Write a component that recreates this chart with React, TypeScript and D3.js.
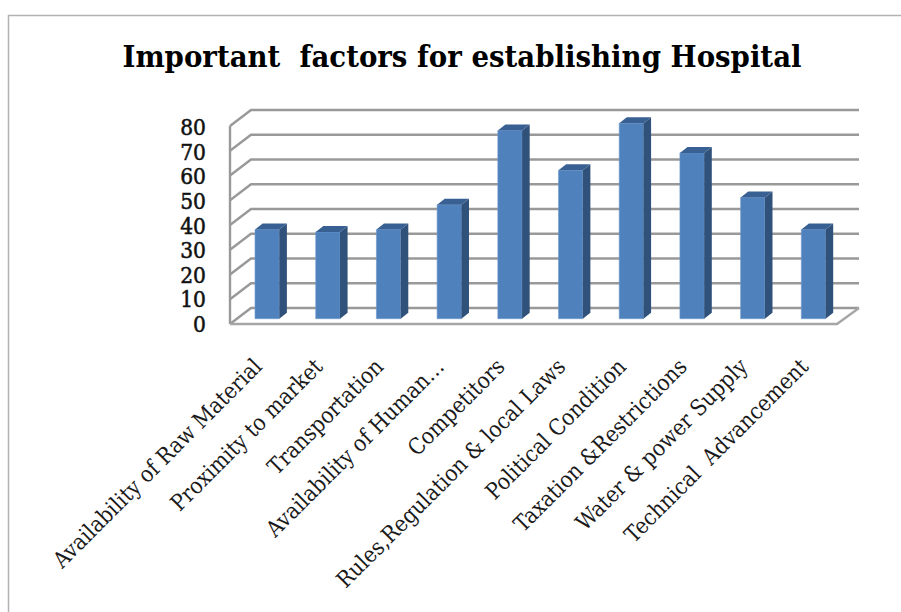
// Important factors for establishing Hospital - fake 3D column chart in D3
import { useEffect, useRef } from 'react'
import * as d3 from 'd3'

const categories = [
  'Availability of Raw Material',
  'Proximity to market',
  'Transportation',
  'Availability of Human…',
  'Competitors',
  'Rules,Regulation & local Laws',
  'Political Condition',
  'Taxation &Restrictions',
  'Water & power Supply',
  'Technical  Advancement',
]
const values = [36, 35, 36, 46, 76, 60, 79, 67, 49, 36]
const yTicks = [0, 10, 20, 30, 40, 50, 60, 70, 80]
const titleText = 'Important  factors for establishing Hospital'

const WIDTH = 901
const HEIGHT = 612
const FONT = '"DejaVu Serif Condensed", "DejaVu Serif", serif'

const App = () => {
  const ref = useRef<SVGSVGElement>(null)

  useEffect(() => {
    const svg = d3.select(ref.current)
    svg.selectAll('*').remove()

    // Frame
    svg
      .append('path')
      .attr('d', `M8.5,${HEIGHT}V15.5H${WIDTH}`)
      .attr('fill', 'none')
      .attr('stroke', '#b2b2b2')
      .attr('stroke-width', 1.5)

    // Title
    svg
      .append('text')
      .attr('x', 462)
      .attr('y', 67)
      .attr('text-anchor', 'middle')
      .style('font', `bold 30.7px ${FONT}`)
      .style('white-space', 'pre')
      .attr('fill', '#000')
      .text(titleText)

    // Scales for the front plane of the box
    const x = d3.scaleBand().domain(categories).range([230, 837]).paddingInner(0.6).paddingOuter(0.3)
    const y = d3.scaleLinear().domain([0, 80]).range([324, 126])
    const tickBaseline = d3.scaleLinear().domain([0, 80]).range([332, 135])

    const depthX = 21
    const depthY = -16
    const barDepthX = 7.6
    const barDepthY = -6
    const barOffsetX = 6.8
    const barOffsetY = -5.3

    // Walls and gridlines
    const grid = svg.append('g').attr('fill', 'none').attr('stroke', '#999').attr('stroke-width', 2.4)
    yTicks.forEach(t => {
      grid
        .append('path')
        .attr('d', `M${x.range()[0]},${y(t)}L${x.range()[0] + depthX},${y(t) + depthY}H859`)
    })
    grid.append('path').attr('d', `M230,${y(0)}V${y(80)}`)
    grid
      .append('path')
      .attr('d', `M230,${y(0)}H837L859,${y(0) + depthY}`)
      .attr('stroke', '#a6a6a6')

    // Tick labels
    svg
      .append('g')
      .selectAll('text')
      .data(yTicks)
      .join('text')
      .attr('x', 206)
      .attr('y', d => tickBaseline(d))
      .attr('text-anchor', 'end')
      .style('font', `22.5px ${FONT}`)
      .attr('fill', '#111')
      .attr('stroke', '#111')
      .attr('stroke-width', 0.5)
      .text(d => d)

    // Bars
    const bars = svg
      .append('g')
      .selectAll('g')
      .data(categories)
      .join('g')
      .attr('transform', `translate(${barOffsetX},${barOffsetY})`)

    const val = (i: number) => values[i]

    bars
      .append('path')
      .attr('fill', '#4f81bd')
      .attr('stroke', '#6f9bd0')
      .attr('stroke-width', 0.6)
      .attr('d', (d, i) => {
        const x0 = x(d) as number
        return `M${x0},${y(val(i))}h${x.bandwidth()}V${y(0)}H${x0}Z`
      })
    bars
      .append('path')
      .attr('fill', '#30517a')
      .attr('d', (d, i) => {
        const x1 = (x(d) as number) + x.bandwidth()
        return `M${x1},${y(val(i))}l${barDepthX},${barDepthY}V${y(0) + barDepthY}l${-barDepthX},${-barDepthY}Z`
      })
    bars
      .append('path')
      .attr('fill', '#386093')
      .attr('d', (d, i) => {
        const x0 = x(d) as number
        return `M${x0},${y(val(i))}l${barDepthX},${barDepthY}h${x.bandwidth()}l${-barDepthX},${-barDepthY}Z`
      })

    // Rotated category labels
    svg
      .append('g')
      .selectAll('text')
      .data(categories)
      .join('text')
      .attr('text-anchor', 'end')
      .attr('transform', d => `translate(${(x(d) as number) + x.bandwidth() / 2 + 3},368) rotate(-45)`)
      .style('font', `22.4px ${FONT}`)
      .style('white-space', 'pre')
      .attr('fill', '#1a1a1a')
      .text(d => d)
  }, [])

  return (
    <svg
      ref={ref}
      width={WIDTH}
      height={HEIGHT}
      style={{ position: 'absolute', left: 0, top: 0, background: '#fff' }}
    />
  )
}

export default App
